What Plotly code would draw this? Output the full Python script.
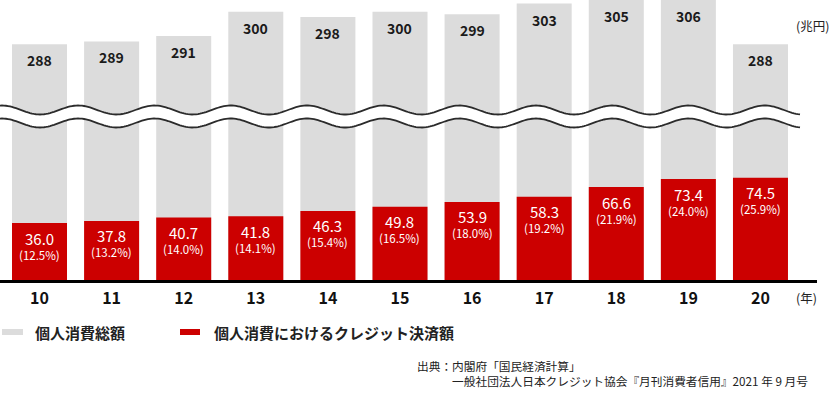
import numpy as np
import plotly.graph_objects as go

# ---------------- data ----------------
YEARS = ["10", "11", "12", "13", "14", "15", "16", "17", "18", "19", "20"]
TOTAL = [288, 289, 291, 300, 298, 300, 299, 303, 305, 306, 288]          # 個人消費総額 (兆円)
CREDIT = [36.0, 37.8, 40.7, 41.8, 46.3, 49.8, 53.9, 58.3, 66.6, 73.4, 74.5]  # クレジット決済額
SHARE = [12.5, 13.2, 14.0, 14.1, 15.4, 16.5, 18.0, 19.2, 21.9, 24.0, 25.9]   # 比率 (%)

LEGEND_TOTAL = "個人消費総額"
LEGEND_CREDIT = "個人消費におけるクレジット決済額"
UNIT_Y = "(兆円)"
UNIT_X = "(年)"
SOURCE_1 = "出典：内閣府「国民経済計算」"
SOURCE_2 = "　　　一般社団法人日本クレジット協会『月刊消費者信用』2021 年 9 月号"

# ---------------- layout constants ----------------
W, H = 830, 395
ML, MR, MT, MB = 0, 13, 0, 115
PW, PH = W - ML - MR, H - MT - MB
FONT = "Noto Sans CJK JP"
GRAY = "#dcdcdc"
RED = "#cc0000"

LOW_FLOOR = -12.47          # lower (broken) axis floor
LOW_TOP = 126.6
UP_RANGE = [261.3, 304.3]
SPLIT = 1 - 116.5 / PH      # domain split between lower and upper part


def px_x(px):
    return (px - ML) / PW


def px_y(py):
    return 1 - (py - MT) / PH


fig = go.Figure()

# lower part: gray total (runs off the top) + red credit
fig.add_trace(go.Bar(x=YEARS, y=[t - LOW_FLOOR for t in TOTAL], base=LOW_FLOOR,
                     marker=dict(color=GRAY, line=dict(width=0)), yaxis="y",
                     hoverinfo="skip", showlegend=False))
fig.add_trace(go.Bar(x=YEARS, y=[c - LOW_FLOOR for c in CREDIT], base=LOW_FLOOR,
                     marker=dict(color=RED, line=dict(width=0)), yaxis="y",
                     hoverinfo="skip", showlegend=False))
# upper part: gray total tops
fig.add_trace(go.Bar(x=YEARS, y=TOTAL, marker=dict(color=GRAY, line=dict(width=0)),
                     yaxis="y2", hoverinfo="skip", showlegend=False))

annotations = []
for i, t in enumerate(TOTAL):
    # bars taller than the visible range get their label pinned to the top edge
    annotations.append(dict(x=i, y=min(t, UP_RANGE[1] - 0.01), xref="x", yref="y2",
                            text=f"<b>{t}</b>", showarrow=False, yshift=-16,
                            yanchor="middle",
                            font=dict(family=FONT, size=14, color="#1a1a1a")))
for i, (c, s) in enumerate(zip(CREDIT, SHARE)):
    annotations.append(dict(x=i, y=c, xref="x", yref="y", text=f"{c:.1f}",
                            showarrow=False, yshift=-15, yanchor="middle",
                            font=dict(family=FONT, size=15, color="white")))
    annotations.append(dict(x=i, y=c, xref="x", yref="y", text=f"({s:.1f}%)",
                            showarrow=False, yshift=-31.5, yanchor="middle",
                            font=dict(family=FONT, size=11.5, color="white")))

annotations += [
    dict(x=px_x(812), y=px_y(25), xref="paper", yref="paper", text=UNIT_Y, showarrow=False,
         xanchor="center", yanchor="middle", font=dict(family=FONT, size=12.5, color="#222")),
    dict(x=px_x(806), y=px_y(297), xref="paper", yref="paper", text=UNIT_X, showarrow=False,
         xanchor="center", yanchor="middle", font=dict(family=FONT, size=12.5, color="#222")),
    dict(x=px_x(33), y=px_y(332), xref="paper", yref="paper", text=f"<b>{LEGEND_TOTAL}</b>",
         showarrow=False, xanchor="left", yanchor="middle",
         font=dict(family=FONT, size=15, color="#222")),
    dict(x=px_x(212), y=px_y(332), xref="paper", yref="paper", text=f"<b>{LEGEND_CREDIT}</b>",
         showarrow=False, xanchor="left", yanchor="middle",
         font=dict(family=FONT, size=15, color="#222")),
    dict(x=px_x(415), y=px_y(372.5), xref="paper", yref="paper",
         text=SOURCE_1 + "<br>" + SOURCE_2, align="left",
         showarrow=False, xanchor="left", yanchor="middle",
         font=dict(family=FONT, size=11.7, color="#222")),
]

# ---------------- break (wave) decoration ----------------
xs = np.arange(0, 801, 2.0)
phase = np.cos(2 * np.pi * (xs - 40) / 76.3)
up = 110 + 4.5 * phase
lo = 123 + 4.5 * phase


def path_of(xa, ya):
    pts = [f"{px_x(a):.5f},{px_y(b):.5f}" for a, b in zip(xa, ya)]
    return "M " + " L ".join(pts)


band = path_of(np.concatenate([xs, xs[::-1]]), np.concatenate([up, lo[::-1]])) + " Z"
shapes = [
    dict(type="path", path=band, xref="paper", yref="paper", fillcolor="white",
         line=dict(width=0), layer="above"),
    dict(type="path", path=path_of(xs, up), xref="paper", yref="paper",
         line=dict(color="#2b2b2b", width=1.8), layer="above"),
    dict(type="path", path=path_of(xs, lo), xref="paper", yref="paper",
         line=dict(color="#2b2b2b", width=1.8), layer="above"),
    # legend swatches
    dict(type="rect", xref="paper", yref="paper", x0=px_x(2), x1=px_x(23),
         y0=px_y(335), y1=px_y(329), fillcolor=GRAY, line=dict(width=0)),
    dict(type="rect", xref="paper", yref="paper", x0=px_x(180), x1=px_x(200),
         y0=px_y(335), y1=px_y(329), fillcolor=RED, line=dict(width=0)),
]

fig.update_layout(
    width=W, height=H,
    margin=dict(l=ML, r=MR, t=MT, b=MB),
    paper_bgcolor="white", plot_bgcolor="white",
    barmode="overlay", bargap=0.237,
    showlegend=False,
    xaxis=dict(type="category", categoryorder="array", categoryarray=YEARS,
               range=[-0.548, 10.784], showline=True, linecolor="#000", linewidth=2.5,
               ticks="", showgrid=False, zeroline=False, ticklabelstandoff=2,
               tickfont=dict(family=FONT, size=16, color="#111", weight="bold"),
               fixedrange=True),
    yaxis=dict(domain=[0, SPLIT], range=[LOW_FLOOR, LOW_TOP], visible=False, fixedrange=True),
    yaxis2=dict(domain=[SPLIT, 1], range=UP_RANGE, anchor="x", visible=False, fixedrange=True),
    annotations=annotations,
    shapes=shapes,
)

fig.write_html(
    "out.html",
    config={"displayModeBar": False},
    post_script="document.body.style.margin='0';document.body.style.overflow='hidden';",
)
